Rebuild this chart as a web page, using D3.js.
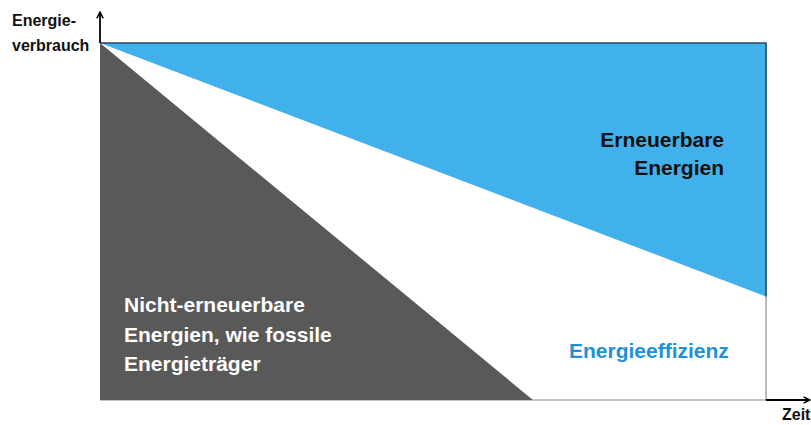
<!DOCTYPE html>
<html>
<head>
<meta charset="utf-8">
<script src="https://cdn.jsdelivr.net/npm/d3@7"></script>
<style>
  body { margin: 0; background: #fff; }
  text { font-family: "Liberation Sans", Arial, sans-serif; font-weight: bold; }
</style>
</head>
<body>
<svg id="chart"></svg>
<script>
// Zeit (0 = heute, 1 = Ende) and Energieverbrauch (relative)
const zeitpunkte = [0, 1];
const verbrauch = [1, 1];               // gesamter Energieverbrauch
const ohneErneuerbare = [1, 0.29];      // untere Grenze der erneuerbaren Energien
const fossilZeit = [0, 0.65];
const fossil = [1, 0];                  // nicht-erneuerbare Energien

const achsenY = ['Energie-', 'verbrauch'];
const achsenX = 'Zeit';
const labelErneuerbar = ['Erneuerbare', 'Energien'];
const labelFossil = ['Nicht-erneuerbare', 'Energien, wie fossile', 'Energieträger'];
const labelEffizienz = 'Energieeffizienz';

const width = 811, height = 425;
const margin = { top: 43, right: 45, bottom: 25, left: 100 };

const svg = d3.select('#chart')
  .attr('width', width)
  .attr('height', height);

const x = d3.scaleLinear().domain([0, 1]).range([margin.left, width - margin.right]);
const y = d3.scaleLinear().domain([0, 1]).range([height - margin.bottom, margin.top]);

// arrow head
svg.append('defs').append('marker')
  .attr('id', 'arrow')
  .attr('viewBox', '0 0 10 10')
  .attr('refX', 9).attr('refY', 5)
  .attr('markerWidth', 8).attr('markerHeight', 8)
  .attr('markerUnits', 'userSpaceOnUse')
  .attr('orient', 'auto')
  .append('path')
  .attr('d', 'M1,1 L9,5 L1,9')
  .attr('fill', 'none')
  .attr('stroke', '#000')
  .attr('stroke-width', 1.8);

// right border of the box
svg.append('line')
  .attr('x1', x(1)).attr('x2', x(1))
  .attr('y1', y(0)).attr('y2', y(1))
  .attr('stroke', '#777').attr('stroke-width', 1);

// x axis line inside the box
svg.append('line')
  .attr('x1', x(0)).attr('x2', x(1))
  .attr('y1', y(0)).attr('y2', y(0))
  .attr('stroke', '#888').attr('stroke-width', 1.2);

// Erneuerbare Energien area
const blueArea = d3.area()
  .x((d, i) => x(zeitpunkte[i]))
  .y0((d, i) => y(ohneErneuerbare[i]))
  .y1((d, i) => y(verbrauch[i]));

svg.append('path')
  .datum(zeitpunkte)
  .attr('d', blueArea)
  .attr('fill', '#41b1ec');

// dark outline on top and right of the blue area
svg.append('path')
  .attr('d', d3.line()([
    [x(0), y(verbrauch[0])],
    [x(1), y(verbrauch[1])],
    [x(1), y(ohneErneuerbare[1])]
  ]))
  .attr('fill', 'none')
  .attr('stroke', '#2b4660')
  .attr('stroke-width', 1.5);

// Nicht-erneuerbare Energien area
const grayArea = d3.area()
  .x((d, i) => x(fossilZeit[i]))
  .y0(y(0))
  .y1((d, i) => y(fossil[i]));

svg.append('path')
  .datum(fossilZeit)
  .attr('d', grayArea)
  .attr('fill', '#595959');

// axis arrows
svg.append('line')
  .attr('x1', x(0)).attr('x2', x(0))
  .attr('y1', y(1)).attr('y2', 12)
  .attr('stroke', '#000').attr('stroke-width', 1.8)
  .attr('marker-end', 'url(#arrow)');

svg.append('line')
  .attr('x1', x(1)).attr('x2', width - 1)
  .attr('y1', y(0)).attr('y2', y(0))
  .attr('stroke', '#000').attr('stroke-width', 1.8)
  .attr('marker-end', 'url(#arrow)');

// axis labels
svg.append('text')
  .attr('font-size', 16)
  .attr('fill', '#111')
  .selectAll('tspan')
  .data(achsenY)
  .join('tspan')
  .attr('x', 12)
  .attr('y', (d, i) => 26 + i * 25)
  .text(d => d);

svg.append('text')
  .attr('x', 782).attr('y', 420)
  .attr('font-size', 16)
  .attr('fill', '#111')
  .text(achsenX);

// area labels
svg.append('text')
  .attr('text-anchor', 'end')
  .attr('font-size', 21)
  .attr('fill', '#111')
  .selectAll('tspan')
  .data(labelErneuerbar)
  .join('tspan')
  .attr('x', 724)
  .attr('y', (d, i) => 147 + i * 28)
  .text(d => d);

svg.append('text')
  .attr('font-size', 21)
  .attr('fill', '#fff')
  .selectAll('tspan')
  .data(labelFossil)
  .join('tspan')
  .attr('x', 124)
  .attr('y', (d, i) => 312 + i * 29.5)
  .text(d => d);

svg.append('text')
  .attr('x', 569).attr('y', 358)
  .attr('font-size', 21)
  .attr('fill', '#2190d8')
  .text(labelEffizienz);
</script>
</body>
</html>
